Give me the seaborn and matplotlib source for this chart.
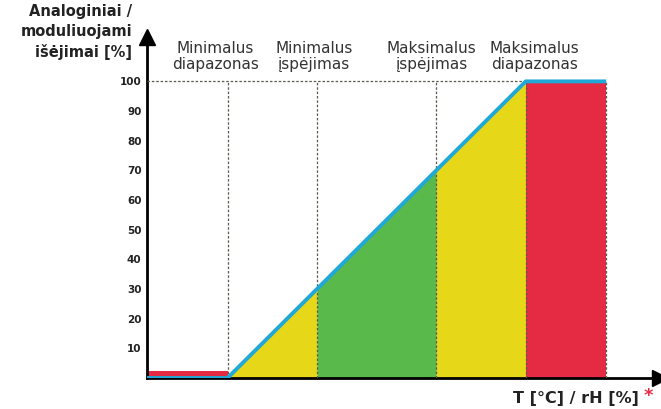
import numpy as np
import matplotlib
matplotlib.use('Agg')
import matplotlib.pyplot as plt
import seaborn as sns

# Output signal curve (x in % of the regulation range)
curve_x = [-27, 0, 100, 127]
curve_y = [0, 0, 100, 100]

# Zone boundaries and labels
zone_edges = [-27, 0, 30, 70, 100, 127]
zone_labels = ['Minimalus\ndiapazonas', 'Minimalus\nįspėjimas',
               'Maksimalus\nįspėjimas', 'Maksimalus\ndiapazonas']
label_x = [-4, 29, 68.5, 103]
min_bar_height = 2.5

y_ticks = [10, 20, 30, 40, 50, 60, 70, 80, 90, 100]

sns.set_style('white')
plt.rcParams['font.family'] = ['DejaVu Sans']

fig = plt.figure(figsize=(6.61, 4.09), dpi=100)
ax = fig.add_axes([0.2224, 0.0758, 0.776, 0.834])

red = '#e52b44'
yellow = '#e6d819'
green = '#59b94a'
blue = '#1fa8d8'
dots = '#5a5a4a'

# coloured zones
ax.fill_between([zone_edges[0], zone_edges[1]], 0, min_bar_height, color=red, lw=0)
zone_cols = [yellow, green, yellow]
for i in range(3):
    xs = np.linspace(zone_edges[i + 1], zone_edges[i + 2], 20)
    ax.fill_between(xs, 0, np.interp(xs, curve_x, curve_y), color=zone_cols[i], lw=0)
ax.fill_between([zone_edges[4], zone_edges[5]], 0, 100, color=red, lw=0)

# dotted guide lines
for xe in zone_edges[1:]:
    ax.plot([xe, xe], [0, 100], color=dots, lw=0.9, ls=(0, (2, 1.5)), zorder=3)
ax.plot([zone_edges[0], zone_edges[4]], [100, 100], color=dots, lw=0.9, ls=(0, (2, 1.5)), zorder=3)

# output curve
sns.lineplot(x=curve_x, y=curve_y, color=blue, lw=2.8, ax=ax, zorder=4,
             solid_capstyle='butt', estimator=None, sort=False)

ax.set_xlim(-27, 145)
ax.set_ylim(0, 115)

# axes with arrows
for s in ['top', 'right']:
    ax.spines[s].set_visible(False)
for s in ['left', 'bottom']:
    ax.spines[s].set_color('black')
    ax.spines[s].set_linewidth(2)
ax.plot(1, 0, '>', color='black', ms=11, transform=ax.transAxes, clip_on=False)
ax.plot(0, 1, '^', color='black', ms=11, transform=ax.transAxes, clip_on=False)

ax.set_xticks([])
ax.set_yticks(y_ticks)
ax.set_yticklabels([str(t) for t in y_ticks], fontsize=7.5, fontweight='bold', color='#222222')
ax.tick_params(axis='y', length=0, pad=4)

for lx, lab in zip(label_x, zone_labels):
    ax.text(lx, 103, lab, ha='center', va='bottom', fontsize=11, color='#333333',
            linespacing=1.1)

fig.text(132 / 661, 1 - 4 / 409, 'Analoginiai /\nmoduliuojami\nišėjimai [%]',
         ha='right', va='top', fontsize=10.5, fontweight='bold', color='#222222',
         linespacing=1.4)
fig.text(639 / 661, 1 - 398 / 409, 'T [°C] / rH [%]', ha='right', va='center',
         fontsize=11.5, fontweight='bold', color='#222222')
fig.text(644 / 661, 1 - 396 / 409, '*', ha='left', va='center',
         fontsize=13, fontweight='bold', color=red)

fig.savefig('out.png', dpi=100)
